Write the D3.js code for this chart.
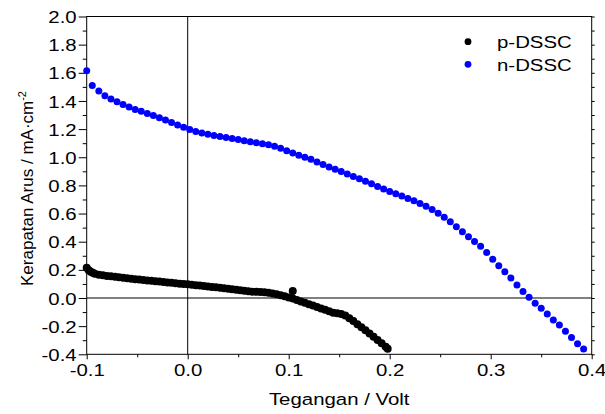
<!DOCTYPE html>
<html><head><meta charset="utf-8">
<script src="https://cdn.jsdelivr.net/npm/d3@7"></script>
<style>
body{margin:0;background:#fff}
svg{display:block}
text{font-family:"Liberation Sans",Arial,sans-serif;fill:#000}
</style>
</head><body>
<svg id="c" width="605" height="414"></svg>
<script>
// ---------- data ----------
const seriesNames = ["p-DSSC", "n-DSSC"];
const seriesColors = ["#000000", "#0000ff"];

const xTicks = [-0.1, 0.0, 0.1, 0.2, 0.3, 0.4];
const xMinorTicks = [-0.05, 0.05, 0.15, 0.25, 0.35];
const yTicks = [-0.4, -0.2, 0.0, 0.2, 0.4, 0.6, 0.8, 1.0, 1.2, 1.4, 1.6, 1.8, 2.0];
const yMinorTicks = [-0.3, -0.1, 0.1, 0.3, 0.5, 0.7, 0.9, 1.1, 1.3, 1.5, 1.7, 1.9];
const yRightTicks = [-0.4,-0.3,-0.2,-0.1,0.0,0.1,0.2,0.3,0.4,0.5,0.6,0.7,0.8,0.9,1.0,1.1,1.2,1.3,1.4,1.5,1.6,1.7,1.8,1.9,2.0];

const xTitle = "Tegangan / Volt";
const yTitle = "Kerapatan Arus / mA\u00B7cm";
const yTitleSup = "-2";

// p-DSSC (voltage V, current density mA/cm2)
const pX = [-0.100,-0.098,-0.096,-0.094,-0.092,-0.088,-0.084,-0.080,-0.076,-0.072,-0.068,-0.064,-0.060,-0.056,-0.052,-0.048,-0.044,-0.040,-0.036,-0.032,-0.028,-0.024,-0.020,-0.016,-0.012,-0.008,-0.004,0.000,0.004,0.008,0.012,0.016,0.020,0.024,0.028,0.032,0.036,0.040,0.044,0.048,0.052,0.056,0.060,0.064,0.068,0.072,0.076,0.080,0.084,0.088,0.092,0.096,0.100,0.104,0.108,0.112,0.116,0.120,0.124,0.128,0.132,0.136,0.140,0.144,0.148,0.152,0.156,0.160,0.164,0.168,0.172,0.176,0.180,0.184,0.188,0.192,0.196,0.198,0.104];
const pY = [0.215,0.198,0.186,0.179,0.173,0.166,0.161,0.157,0.154,0.151,0.147,0.144,0.140,0.137,0.134,0.131,0.128,0.125,0.122,0.119,0.117,0.114,0.111,0.108,0.105,0.102,0.100,0.097,0.094,0.091,0.088,0.085,0.082,0.079,0.076,0.073,0.069,0.066,0.062,0.059,0.055,0.052,0.048,0.045,0.044,0.043,0.041,0.037,0.032,0.026,0.019,0.012,0.004,-0.004,-0.014,-0.024,-0.034,-0.044,-0.054,-0.064,-0.074,-0.084,-0.094,-0.104,-0.109,-0.113,-0.124,-0.143,-0.164,-0.186,-0.208,-0.230,-0.253,-0.276,-0.299,-0.322,-0.347,-0.360,0.050];

// n-DSSC
const nX = [-0.100,-0.0945,-0.088,-0.082,-0.076,-0.070,-0.064,-0.058,-0.052,-0.046,-0.040,-0.034,-0.028,-0.022,-0.016,-0.010,-0.004,0.002,0.008,0.014,0.020,0.026,0.032,0.038,0.044,0.050,0.056,0.062,0.068,0.074,0.080,0.086,0.092,0.098,0.104,0.110,0.116,0.122,0.128,0.134,0.140,0.146,0.152,0.158,0.164,0.170,0.176,0.182,0.188,0.194,0.200,0.206,0.212,0.218,0.224,0.230,0.236,0.242,0.248,0.254,0.260,0.266,0.272,0.278,0.284,0.290,0.296,0.302,0.308,0.314,0.320,0.326,0.332,0.338,0.344,0.350,0.356,0.362,0.368,0.374,0.380,0.386,0.392];
const nY = [1.615,1.510,1.470,1.437,1.413,1.394,1.374,1.357,1.340,1.326,1.311,1.296,1.281,1.264,1.247,1.230,1.213,1.198,1.183,1.172,1.163,1.155,1.147,1.140,1.133,1.126,1.118,1.110,1.103,1.096,1.088,1.078,1.064,1.047,1.030,1.015,1.000,0.985,0.967,0.948,0.931,0.915,0.898,0.881,0.864,0.847,0.829,0.811,0.793,0.774,0.756,0.740,0.724,0.707,0.691,0.672,0.651,0.628,0.602,0.574,0.542,0.507,0.471,0.436,0.402,0.368,0.324,0.275,0.230,0.187,0.142,0.092,0.046,0.005,-0.038,-0.073,-0.113,-0.156,-0.192,-0.236,-0.281,-0.325,-0.362];

// ---------- chart ----------
const L = 86.7, R = 591.7, T = 16.5, B = 354.3;
const FS = 17, SX = 1.2;

const svg = d3.select("#c");
const x = d3.scaleLinear().domain([-0.1, 0.4]).range([L, R]);
const y = d3.scaleLinear().domain([-0.4, 2.0]).range([B, T]);
const fmt = d => (Math.abs(d) < 1e-9 ? 0 : d).toFixed(1);

// left axis major
const gL = svg.append("g").attr("transform", `translate(${L},0)`)
  .call(d3.axisLeft(y).tickValues(yTicks).tickSize(8).tickFormat(fmt));
gL.selectAll("text").attr("x", 0).attr("dy", null)
  .attr("transform", `translate(-10,${FS*0.36}) scale(${SX},1)`)
  .style("font-size", FS + "px").attr("font-family", null);
// left axis minor
svg.append("g").attr("transform", `translate(${L},0)`)
  .call(d3.axisLeft(y).tickValues(yMinorTicks).tickSize(4).tickFormat(""));
// right axis
svg.append("g").attr("transform", `translate(${R},0)`)
  .call(d3.axisRight(y).tickValues(yRightTicks).tickSize(3).tickFormat(""));
// bottom axis major
const gB = svg.append("g").attr("transform", `translate(0,${B})`)
  .call(d3.axisBottom(x).tickValues(xTicks).tickSize(5).tickFormat(fmt));
gB.selectAll("text").attr("y", 0).attr("dy", null)
  .attr("transform", `translate(0,22) scale(${SX},1)`)
  .style("font-size", FS + "px").attr("font-family", null);
// bottom axis minor
svg.append("g").attr("transform", `translate(0,${B})`)
  .call(d3.axisBottom(x).tickValues(xMinorTicks).tickSize(3).tickFormat(""));

svg.selectAll(".domain").remove();
svg.selectAll(".tick line").attr("stroke", "#000");

// zero lines
svg.append("line").attr("x1", L).attr("x2", R).attr("y1", y(0)).attr("y2", y(0)).attr("stroke", "#000");
svg.append("line").attr("x1", x(0)).attr("x2", x(0)).attr("y1", T).attr("y2", B).attr("stroke", "#000");

// frame
svg.append("rect").attr("x", L).attr("y", T).attr("width", R - L).attr("height", B - T)
  .attr("fill", "none").attr("stroke", "#000");

// data
const pData = pX.map((v, i) => [v, pY[i]]);
const nData = nX.map((v, i) => [v, nY[i]]);
svg.append("g").selectAll("circle").data(pData).join("circle")
  .attr("cx", d => x(d[0])).attr("cy", d => y(d[1])).attr("r", 4).attr("fill", seriesColors[0]);
svg.append("g").selectAll("circle").data(nData).join("circle")
  .attr("cx", d => x(d[0])).attr("cy", d => y(d[1])).attr("r", 3.5).attr("fill", seriesColors[1]);

// legend
const lg = svg.append("g");
seriesNames.forEach((name, i) => {
  const yy = 41.7 + i * 22.6;
  lg.append("circle").attr("cx", 468).attr("cy", yy).attr("r", 3.4).attr("fill", seriesColors[i]);
  lg.append("text").attr("transform", `translate(497,${yy + 6.3}) scale(${SX},1)`)
    .style("font-size", FS + "px").text(name);
});

// axis titles
svg.append("text").attr("transform", `translate(${(L + R) / 2},405) scale(${SX},1)`)
  .attr("text-anchor", "middle").style("font-size", FS + "px").text(xTitle);
const yt = svg.append("text").attr("transform", `translate(33,188.5) rotate(-90)`)
  .attr("text-anchor", "middle").style("font-size", FS + "px").text(yTitle);
yt.append("tspan").attr("dy", -7).style("font-size", "11px").text(yTitleSup);
</script>
</body></html>
